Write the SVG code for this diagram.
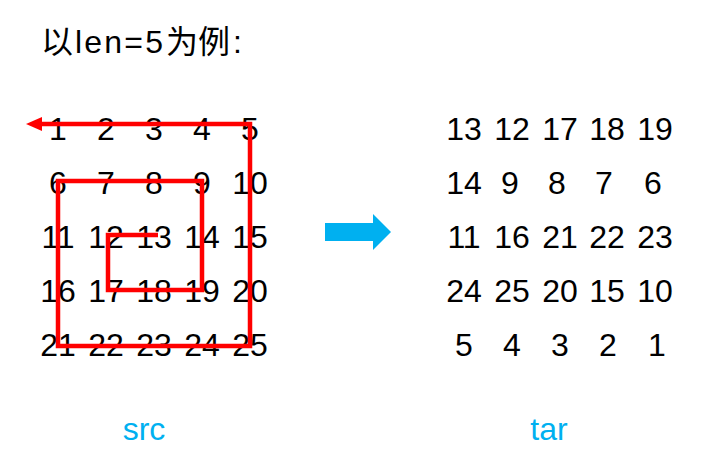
<svg xmlns="http://www.w3.org/2000/svg" width="723" height="472" viewBox="0 0 723 472">
<style>
.n{font-family:"Liberation Sans","Noto Sans CJK SC",sans-serif;font-size:32px;fill:#000;text-anchor:middle}
.lbl{font-family:"Liberation Sans",sans-serif;font-size:32px;fill:#00B0F0;text-anchor:middle}
.t{font-family:"Liberation Sans","Noto Sans CJK SC",sans-serif;font-size:32px;fill:#000}
</style>
<rect width="723" height="472" fill="#fff"/>
<g id="title"><text class="t" y="53"><tspan x="41">以</tspan><tspan x="75" textLength="88" lengthAdjust="spacing">len=5</tspan><tspan x="166">为例</tspan><tspan x="233">:</tspan></text></g>
<g id="src">
<text class="n" x="58" y="140">1</text><text class="n" x="106" y="140">2</text><text class="n" x="154" y="140">3</text><text class="n" x="202" y="140">4</text><text class="n" x="250" y="140">5</text>
<text class="n" x="58" y="194">6</text><text class="n" x="106" y="194">7</text><text class="n" x="154" y="194">8</text><text class="n" x="202" y="194">9</text><text class="n" x="250" y="194">10</text>
<text class="n" x="58" y="248">11</text><text class="n" x="106" y="248">12</text><text class="n" x="154" y="248">13</text><text class="n" x="202" y="248">14</text><text class="n" x="250" y="248">15</text>
<text class="n" x="58" y="302">16</text><text class="n" x="106" y="302">17</text><text class="n" x="154" y="302">18</text><text class="n" x="202" y="302">19</text><text class="n" x="250" y="302">20</text>
<text class="n" x="58" y="356">21</text><text class="n" x="106" y="356">22</text><text class="n" x="154" y="356">23</text><text class="n" x="202" y="356">24</text><text class="n" x="250" y="356">25</text>
</g>
<g id="tar">
<text class="n" x="464" y="140">13</text><text class="n" x="512" y="140">12</text><text class="n" x="560" y="140">17</text><text class="n" x="607" y="140">18</text><text class="n" x="655" y="140">19</text>
<text class="n" x="464" y="194">14</text><text class="n" x="510" y="194">9</text><text class="n" x="557" y="194">8</text><text class="n" x="604" y="194">7</text><text class="n" x="653" y="194">6</text>
<text class="n" x="464" y="248">11</text><text class="n" x="512" y="248">16</text><text class="n" x="560" y="248">21</text><text class="n" x="607" y="248">22</text><text class="n" x="655" y="248">23</text>
<text class="n" x="464" y="302">24</text><text class="n" x="512" y="302">25</text><text class="n" x="560" y="302">20</text><text class="n" x="607" y="302">15</text><text class="n" x="655" y="302">10</text>
<text class="n" x="464" y="356">5</text><text class="n" x="512" y="356">4</text><text class="n" x="560" y="356">3</text><text class="n" x="608" y="356">2</text><text class="n" x="657" y="356">1</text>
</g>
<g id="connectors">
<path d="M158,235 H108 V290 H202 V181 H58 V346 H250 V124 H40" fill="none" stroke="#FF0000" stroke-width="4.5" stroke-linejoin="miter"/>
<polygon points="26,124 42,117 42,131" fill="#FF0000"/>
<polygon points="325,223 373,223 373,214 391,232 373,250 373,241 325,241" fill="#00B0F0"/>
</g>
<g id="labels">
<text class="lbl" x="144" y="440">src</text>
<text class="lbl" x="549" y="440">tar</text>
</g>
</svg>
